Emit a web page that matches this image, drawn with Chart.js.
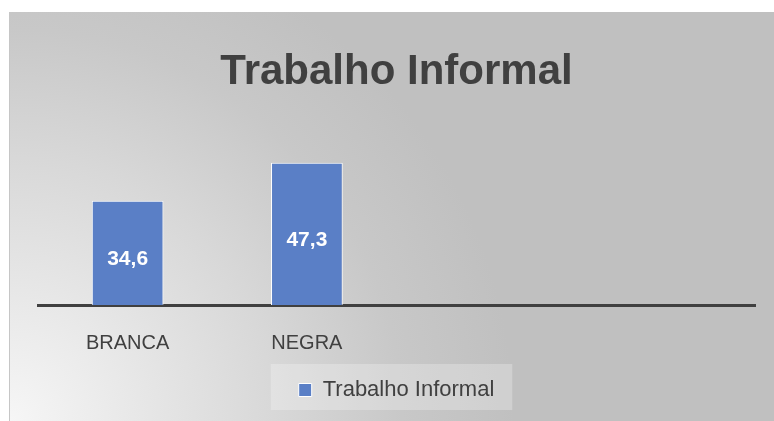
<!DOCTYPE html>
<html>
<head>
<meta charset="utf-8">
<script src="https://cdn.jsdelivr.net/npm/chart.js@4"></script>
<style>
  body { margin: 0; background: #fff; }
  #wrap { position: relative; width: 774px; height: 421px; }
</style>
</head>
<body>
<div id="wrap"><canvas id="myChart"></canvas></div>
<script>
var categorias = ['BRANCA', 'NEGRA', '', ''];
var valores = [34.6, 47.3, null, null];
var serie = 'Trabalho Informal';
var titulo = 'Trabalho Informal';

Chart.defaults.font.family = "'Liberation Sans', Arial, sans-serif";

var fundo = {
  id: 'fundo',
  beforeDraw: function(chart) {
    var c = chart.ctx;
    c.save();
    c.fillStyle = '#ffffff';
    c.fillRect(0, 0, chart.width, chart.height);
    var g = c.createRadialGradient(10, 421, 0, 10, 421, 560);
    g.addColorStop(0, '#f6f6f6');
    g.addColorStop(0.25, '#e6e6e6');
    g.addColorStop(0.47, '#d8d8d8');
    g.addColorStop(0.7, '#c8c8c8');
    g.addColorStop(0.9, '#c0c0c0');
    g.addColorStop(1, '#c0c0c0');
    c.fillStyle = g;
    c.fillRect(10, 12, chart.width - 10, chart.height - 12);
    c.fillStyle = '#c6c6c6';
    c.fillRect(9, 12, 1, chart.height - 12);
    // caixa da legenda
    var hb = chart.legend.legendHitBoxes[0];
    if (hb) {
      c.fillStyle = 'rgba(255,255,255,0.25)';
      c.fillRect(hb.left - 28, hb.top - 15, hb.width + 46, 46);
    }
    c.restore();
  }
};

var rotulos = {
  id: 'rotulos',
  afterDatasetsDraw: function(chart) {
    var c = chart.ctx;
    var meta = chart.getDatasetMeta(0);
    c.save();
    c.fillStyle = '#ffffff';
    c.font = "bold 21px 'Liberation Sans', Arial, sans-serif";
    c.textAlign = 'center';
    c.textBaseline = 'middle';
    meta.data.forEach(function(bar, i) {
      var v = valores[i];
      if (v == null) return;
      c.fillText(v.toFixed(1).replace('.', ','), bar.x, (bar.y + bar.base) / 2 + 6);
    });
    c.restore();
  }
};

var ctx = document.getElementById('myChart').getContext('2d');

var myBarChart = new Chart(ctx, {
  type: 'bar',
  data: {
    labels: categorias,
    datasets: [{
      label: serie,
      data: valores,
      backgroundColor: '#5a7fc6',
      borderColor: '#ffffff',
      borderWidth: 1,
      categoryPercentage: 1,
      barPercentage: 0.4
    }]
  },
  options: {
    responsive: true,
    maintainAspectRatio: false,
    animation: false,
    layout: { padding: { left: 38, right: 19, top: 12, bottom: 10 } },
    plugins: {
      title: {
        display: true,
        text: titulo,
        color: '#404040',
        font: { size: 42, weight: 'bold' },
        padding: { top: 35, bottom: 27 }
      },
      legend: {
        position: 'bottom',
        labels: {
          color: '#404040',
          font: { size: 22 },
          boxWidth: 13,
          boxHeight: 13,
          padding: 10
        }
      },
      tooltip: { enabled: false }
    },
    scales: {
      x: {
        grid: { display: false, drawTicks: false },
        border: { display: true, color: '#404040', width: 3 },
        ticks: { color: '#404040', font: { size: 20 }, padding: 26 },
        afterFit: function(scale) { scale.height = 64; }
      },
      y: {
        display: false,
        min: 0,
        max: 60
      }
    }
  },
  plugins: [fundo, rotulos]
});
</script>
</body>
</html>
